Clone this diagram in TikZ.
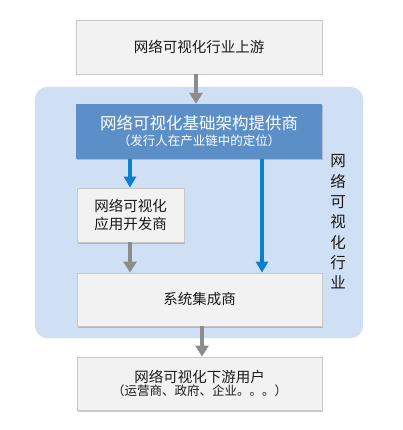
\documentclass[tikz,border=0pt]{standalone}
\usepackage{fontspec}
\setmainfont{Noto Sans CJK SC}
\usetikzlibrary{arrows.meta,shadows}
\definecolor{boxfill}{HTML}{F2F2F2}
\definecolor{boxline}{HTML}{C8C8C8}
\definecolor{regionfill}{HTML}{CFE0F5}
\definecolor{mainblue}{HTML}{5C8FC8}
\definecolor{arrowblue}{HTML}{0B80D0}
\definecolor{arrowgray}{HTML}{8C8C8C}
\definecolor{txt}{HTML}{1A1A1A}
\begin{document}
\begin{tikzpicture}[x=1pt,y=-1pt,
  plainbox/.style={draw=boxline, line width=0.8pt, fill=boxfill, text=txt,
    drop shadow={shadow xshift=1.2pt, shadow yshift=-1.5pt, opacity=0.35, fill=black!60},
    inner sep=0pt, align=center},
  graybar/.style={draw=arrowgray, line width=4.5pt, -{Triangle[length=11pt,width=13pt]}},
  bluebar/.style={draw=arrowblue, line width=3.5pt, -{Triangle[length=11pt,width=12pt]}}]
\useasboundingbox (0,0) rectangle (403,430);
\fill[white] (0,0) rectangle (403,430);
% region
\fill[regionfill, rounded corners=12pt] (35,87) rectangle (363,338);
% boxes
\node[plainbox, minimum width=246pt, minimum height=54pt, font=\fontsize{14.5}{16}\selectfont] (up) at (199,47) {网络可视化行业上游};
\node[draw=none, fill=mainblue, text=white, minimum width=246pt, minimum height=55pt, inner sep=0pt, align=center,
  drop shadow={shadow xshift=1.2pt, shadow yshift=-1.5pt, opacity=0.3, fill=black!60}] (infra) at (199,131.5)
  {\fontsize{16.5}{20}\selectfont 网络可视化基础架构提供商\\[3pt]\fontsize{12.5}{15}\selectfont （发行人在产业链中的定位）};
\node[plainbox, minimum width=107pt, minimum height=54pt, font=\fontsize{14.5}{18}\selectfont] (app) at (130.5,215) {网络可视化\\应用开发商};
\node[plainbox, minimum width=245pt, minimum height=53pt, font=\fontsize{14.5}{16}\selectfont] (sys) at (199.5,299.5) {系统集成商};
\node[plainbox, minimum width=245pt, minimum height=53pt] (down) at (199.5,383.5)
  {\fontsize{14.5}{16}\selectfont 网络可视化下游用户\\[1.5pt]\fontsize{12.5}{15}\selectfont （运营商、政府、企业。。。）};
% vertical label
\node[text=txt, align=center, inner sep=0pt, font=\fontsize{15.5}{20.3}\selectfont] (lbl) at (338,222)
  {网\\络\\可\\视\\化\\行\\业};
% arrows
\draw[graybar] (up.south -| 196,0) -- (infra.north -| 196,0);
\draw[bluebar] (infra.south -| 130,0) -- (app.north -| 130,0);
\draw[graybar] (app.south -| 130,0) -- (sys.north -| 130,0);
\draw[bluebar] (infra.south -| 262,0) -- (sys.north -| 262,0);
\draw[graybar] (sys.south -| 202,0) -- (down.north -| 202,0);
\end{tikzpicture}
\end{document}
